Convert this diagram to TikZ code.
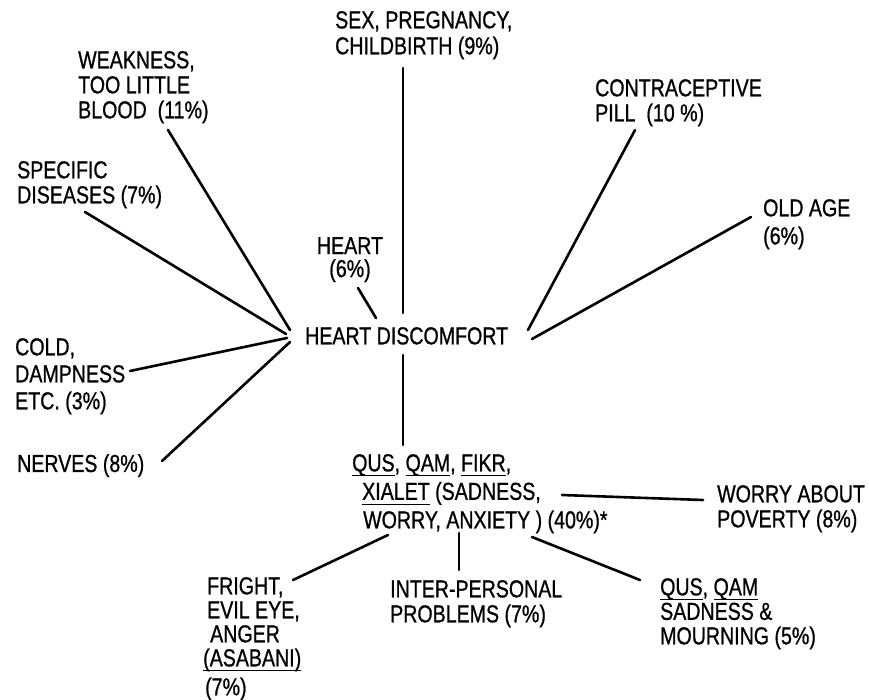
\documentclass[tikz,border=0pt]{standalone}
\usepackage{fontspec}
\setmainfont{Liberation Sans}[FakeStretch=0.8,FakeBold=0.8]
\newcommand\myul[1]{\setbox0\hbox{#1}\rlap{\rule[-5pt]{\wd0}{1.3pt}}\box0\relax}
\newcommand\lblfont[1]{\fontsize{24.5}{#1}\selectfont}
\tikzset{
  lbl/.style={inner sep=0pt, anchor=north west, align=left, font=\lblfont{25}},
  conn/.style={line width=2.6pt, line cap=round},
}
\begin{document}
\begin{tikzpicture}[x=1pt,y=-1pt]
\useasboundingbox (0,0) rectangle (869,700);
\fill[white] (0,0) rectangle (869,700);

% labels
\node[lbl, font=\lblfont{26}] (sex) at (335,11) {SEX, PREGNANCY,\\CHILDBIRTH (9\%)};
\node[lbl] (weak) at (78,51) {WEAKNESS,\\TOO LITTLE\\BLOOD\ \ (11\%)};
\node[lbl] (spec) at (17,161) {SPECIFIC\\DISEASES (7\%)};
\node[lbl, font=\lblfont{27}] (cold) at (15,338) {COLD,\\DAMPNESS\\ETC.\ (3\%)};
\node[lbl] (nerves) at (17,454) {NERVES (8\%)};
\node[inner sep=0pt, anchor=north, align=center, font=\lblfont{23}] (heart) at (350,237) {HEART\\(6\%)};
\node[lbl] (hd) at (305,327) {HEART DISCOMFORT};
\node[lbl] (contra) at (595,79) {CONTRACEPTIVE\\PILL\ \ (10 \%)};
\node[lbl, font=\lblfont{28}] (old) at (763,199) {OLD AGE\\(6\%)};
\node[lbl, font=\lblfont{28.5}] (qus) at (352,454) {\myul{QUS}, \myul{QAM}, \myul{FIKR},\\\hspace*{10pt}\myul{XIALET} (SADNESS,\\\hspace*{11pt}WORRY, ANXIETY ) (40\%)*};
\node[lbl] (worry) at (717,485) {WORRY ABOUT\\POVERTY (8\%)};
\node[lbl, font=\lblfont{24}] (fright) at (203,577) {\hspace*{4pt}FRIGHT,\\\hspace*{4pt}EVIL EYE,\\\hspace*{7pt}ANGER\\\myul{(ASABANI)}\\[5pt]\hspace*{2pt}(7\%)};
\node[lbl] (inter) at (390,580) {INTER-PERSONAL\\PROBLEMS (7\%)};
\node[lbl, font=\lblfont{24.5}] (qus2) at (660,578) {\myul{QUS}, \myul{QAM}\\SADNESS \&\\MOURNING (5\%)};

% connector end points
\coordinate (sex-e) at (403,68);   \coordinate (hd-n) at (403,313);
\coordinate (weak-e) at (168,130); \coordinate (hd-w1) at (290,330);
\coordinate (spec-e) at (85,212);  \coordinate (hd-w2) at (286,334);
\coordinate (cold-e) at (130,371); \coordinate (hd-w3) at (287,338);
\coordinate (nerves-e) at (162,461); \coordinate (hd-w4) at (290,342);
\coordinate (heart-e) at (358,288); \coordinate (hd-nw) at (376,318);
\coordinate (contra-e) at (635,130); \coordinate (hd-e1) at (528,330);
\coordinate (old-e) at (751,217);  \coordinate (hd-e2) at (532,339);
\coordinate (hd-s) at (403,355);   \coordinate (qus-n) at (403,445);
\coordinate (qus-e) at (562,495);  \coordinate (worry-w) at (703,500);
\coordinate (qus-sw) at (388,535); \coordinate (fright-e) at (293,580);
\coordinate (qus-s) at (459,533);  \coordinate (inter-n) at (459,570);
\coordinate (qus-se) at (532,537); \coordinate (qus2-w) at (640,580);

% connectors
\draw[conn] (sex-e) -- (hd-n);
\draw[conn] (weak-e) -- (hd-w1);
\draw[conn] (spec-e) -- (hd-w2);
\draw[conn] (cold-e) -- (hd-w3);
\draw[conn] (nerves-e) -- (hd-w4);
\draw[conn] (heart-e) -- (hd-nw);
\draw[conn] (contra-e) -- (hd-e1);
\draw[conn] (old-e) -- (hd-e2);
\draw[conn] (hd-s) -- (qus-n);
\draw[conn] (qus-e) -- (worry-w);
\draw[conn] (qus-sw) -- (fright-e);
\draw[conn] (qus-s) -- (inter-n);
\draw[conn] (qus-se) -- (qus2-w);
\end{tikzpicture}
\end{document}
